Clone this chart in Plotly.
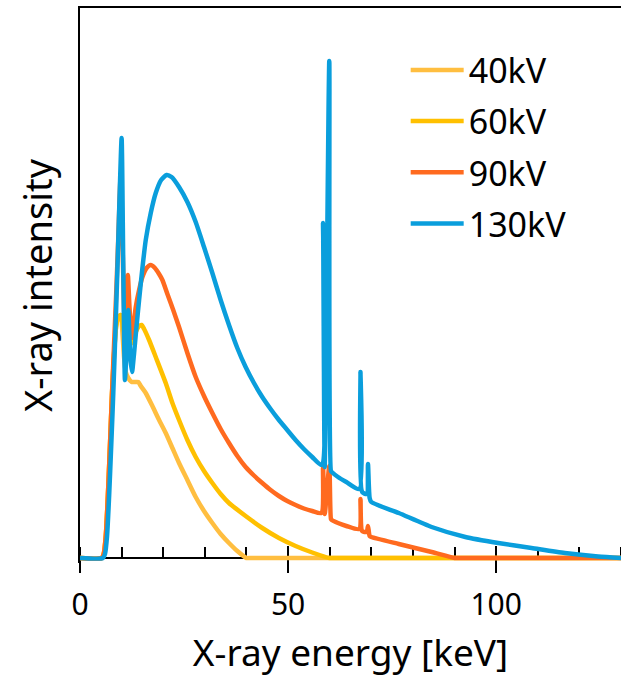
import plotly.graph_objects as go

# ---- data (energy in keV, intensity in arbitrary units) ----
e_40 = [0, 5.2, 5.7, 6.2, 6.7, 7.2, 7.7, 8.2, 8.7, 9.2, 9.8, 10.2, 10.6, 11.0, 11.6, 12.4, 13.2, 14.0,
        14.6, 15.8, 17.5, 19.0, 20.6, 22.2, 23.8, 25.8, 27.8, 29.8, 31.8, 33.8, 35.8, 37.8, 40.0, 41.0, 130]
i_40 = [0, 0, 4, 22, 62, 112, 165, 205, 232, 241, 243, 225, 200, 186, 180, 176, 176, 176,
        172, 165, 151, 138, 125, 110, 95, 78, 61, 47, 35, 24, 15, 7, 0, 0, 0]

e_60 = [0, 5.2, 5.7, 6.2, 6.7, 7.2, 7.7, 8.2, 8.7, 9.2, 9.8, 10.3, 10.8, 11.4, 12.0, 12.6, 13.4, 14.2,
        14.8, 15.4, 16.6, 18.2, 20.6, 22.2, 23.8, 25.8, 27.8, 29.8, 31.8, 33.8, 35.8, 39.8, 43.8,
        47.8, 51.8, 55.8, 59.9, 61.0, 130]
i_60 = [0, 0, 4, 22, 62, 112, 165, 205, 232, 241, 243, 232, 222, 214, 213, 217, 226, 232,
        233, 229, 218, 201, 175, 155, 138, 118, 101, 87, 75, 64, 55, 42, 30,
        20, 12, 5.5, 0, 0, 0]

e_90 = [0, 5.2, 5.7, 6.2, 6.7, 7.2, 7.7, 8.2, 8.7, 9.2, 9.8, 10.3, 10.8, 11.1, 11.5, 11.9, 12.4,
        13.0, 13.4, 14.2, 15.0, 16.0, 17.0, 18.0, 19.0, 19.8, 21.0, 22.4, 23.8, 25.8, 27.8, 29.8,
        31.8, 33.8, 35.8, 37.8, 39.8, 41.8, 43.8, 45.8, 47.8, 49.8, 51.8, 53.8, 55.8, 58.0,
        58.4, 58.8, 59.9, 60.3, 60.5, 62.0, 64.0, 67.1, 67.4, 67.8, 68.9, 69.2, 69.6, 70.0,
        76.6, 84.5, 90.0, 91.0, 130]
i_90 = [0, 0, 4, 22, 62, 112, 165, 215, 265, 320, 385, 300, 232, 240, 283, 250, 220,
        238, 251, 268, 281, 290, 293, 290, 284, 278, 264, 248, 231, 205, 181, 162,
        145, 129, 115, 102, 91, 82.5, 75, 68, 62, 57, 53, 49.5, 47, 45,
        90, 44, 92, 39, 38, 35, 32, 29, 59, 27, 26, 32, 22, 21,
        14, 6, 0, 0, 0]

e_130 = [0, 5.5, 6.0, 6.5, 7.0, 7.5, 8.0, 8.5, 9.0, 9.5, 10.0, 10.3, 10.6, 10.8, 11.1, 11.6, 12.1,
         12.5, 13.0, 13.5, 14.2, 15.0, 15.8, 17.0, 18.2, 19.5, 20.8, 22.0, 23.8, 25.8, 27.8, 29.8,
         31.8, 33.8, 35.8, 37.8, 39.8, 41.8, 43.8, 45.8, 47.8, 49.8, 51.8, 53.8, 55.8, 58.0,
         58.4, 58.8, 59.9, 60.3, 60.5, 62.0, 64.0, 67.1, 67.4, 67.8, 68.9, 69.2, 69.6, 70.0,
         76.6, 84.5, 92.6, 100.5, 108.5, 116.5, 124.5, 130]
i_130 = [0, 0, 4, 22, 62, 112, 165, 225, 290, 360, 420, 330, 220, 178, 200, 248, 200,
         186, 205, 228, 258, 290, 318, 345, 365, 378, 383, 381, 371, 356, 336, 311,
         285, 258, 233, 210, 191, 175, 161, 149, 138, 128, 118, 109, 101, 93,
         335, 91, 497, 87, 86, 81, 76, 69, 186, 66, 64, 94, 60, 56,
         45, 31, 21, 15, 10, 5, 1.5, 0]

series_names = ["40kV", "60kV", "90kV", "130kV"]
series_colors = ["#FFBE40", "#FFC000", "#FF6A1F", "#0A9EDC"]
x_ticks = [0, 50, 100]
x_title = "X-ray energy [keV]"
y_title = "X-ray intensity"

FONT = "Noto Sans"
Y_LO, Y_HI = -5, 550

fig = go.Figure()
for e, i, name, col in zip([e_40, e_60, e_90, e_130], [i_40, i_60, i_90, i_130],
                           series_names, series_colors):
    fig.add_trace(go.Scatter(x=e, y=i, mode="lines", name=name, legendgroup=name,
                             line=dict(color=col, width=4.5, shape="spline", smoothing=0.6)))

pos0 = (0 - Y_LO) / (Y_HI - Y_LO)

fig.update_layout(
    template="none",
    width=621, height=696,
    margin=dict(l=80, r=0, t=8, b=133, autoexpand=False),
    paper_bgcolor="white", plot_bgcolor="white",
    font=dict(family=FONT, color="black"),
    showlegend=True,
    legend=dict(x=0.602, y=0.94, xanchor="left", yanchor="top",
                font=dict(size=34, family=FONT), itemwidth=53,
                bgcolor="rgba(0,0,0,0)", borderwidth=0, tracegroupgap=4),
    xaxis=dict(range=[0, 130], anchor="free", position=pos0, automargin=False,
               showline=True, linecolor="black", linewidth=2, layer="below traces",
               showgrid=False, zeroline=False,
               tickmode="array", tickvals=x_ticks, ticks="outside", ticklen=14,
               tickwidth=2, tickcolor="black", showticklabels=False,
               minor=dict(ticks="inside", ticklen=10, dtick=10, tickwidth=1.5,
                          tickcolor="black", showgrid=False),
               title=dict(text=x_title, font=dict(size=37, family=FONT), standoff=67)),
    xaxis2=dict(range=[0, 130], overlaying="x", side="top", anchor="y", automargin=False,
                showline=True, linecolor="black", linewidth=2,
                showgrid=False, zeroline=False, ticks="", showticklabels=False),
    xaxis3=dict(range=[0, 130], overlaying="x", anchor="free", position=pos0, automargin=False,
                showline=False, showgrid=False, zeroline=False,
                tickmode="array", tickvals=x_ticks, ticks="inside", ticklen=12,
                tickwidth=2, tickcolor="black", showticklabels=True, ticklabelstandoff=26,
                tickfont=dict(size=30, family=FONT), layer="below traces"),
    yaxis=dict(range=[Y_LO, Y_HI], showline=True, linecolor="black", linewidth=2,
               automargin=False,
               showgrid=False, zeroline=False, ticks="", showticklabels=False,
               title=dict(text=y_title, font=dict(size=38, family=FONT), standoff=14)),
)

# invisible helper traces to activate the overlay axes
fig.add_trace(go.Scatter(x=[0], y=[0], xaxis="x2", mode="lines", showlegend=False,
                         hoverinfo="skip", line=dict(width=0)))
fig.add_trace(go.Scatter(x=[0], y=[0], xaxis="x3", mode="lines", showlegend=False,
                         hoverinfo="skip", line=dict(width=0)))

fig.write_html("out.html", config={"displayModeBar": False},
               post_script="document.body.style.margin='0';document.body.style.overflow='hidden';")
